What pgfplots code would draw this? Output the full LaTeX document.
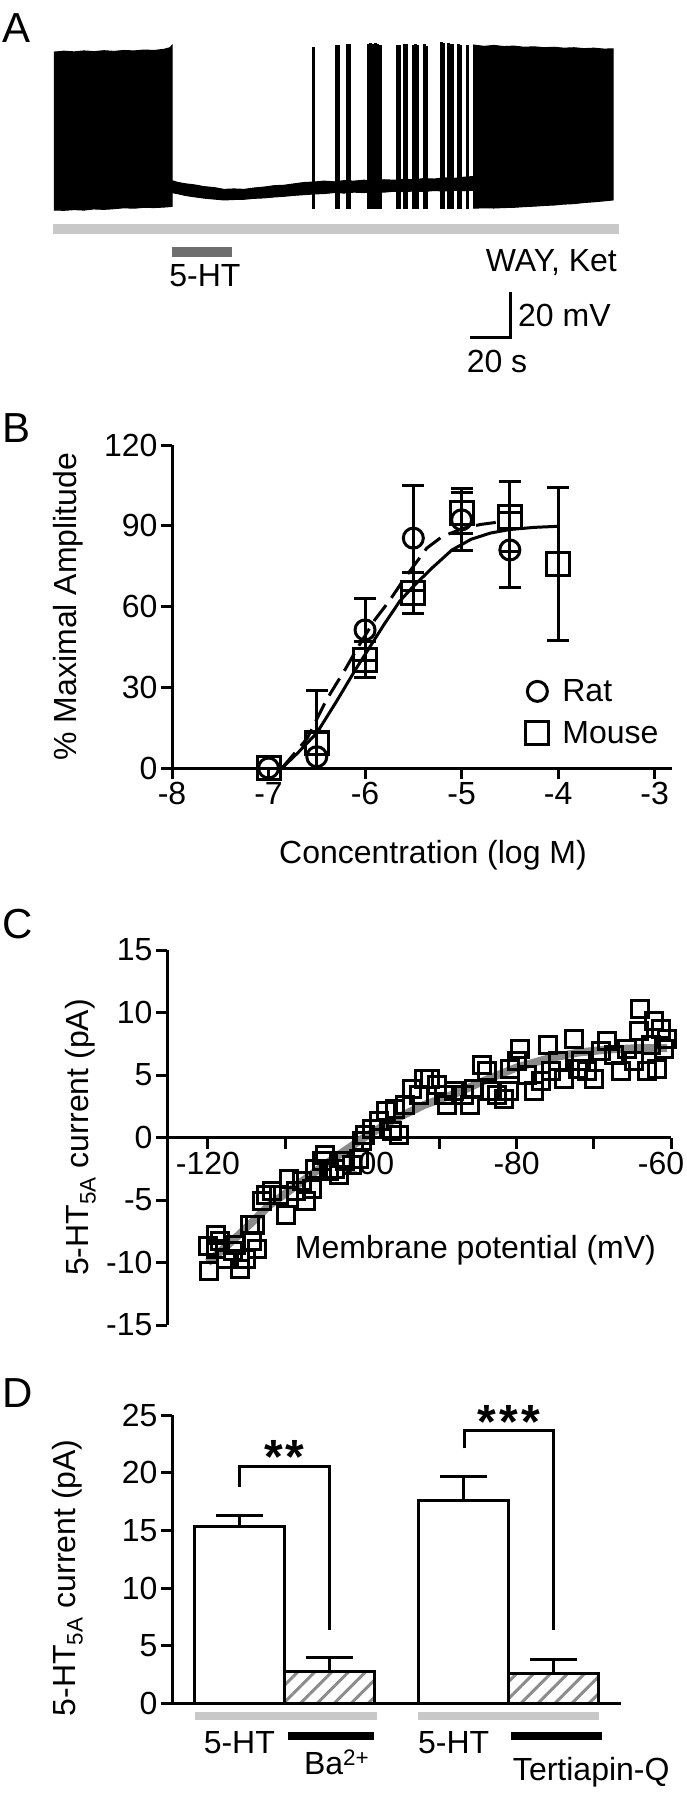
\documentclass[border=0pt]{standalone}
\usepackage{fontspec}
\setmainfont{Liberation Sans}
\usepackage{pgfplots}
\pgfplotsset{compat=1.18}
\usetikzlibrary{patterns.meta}
\newcommand{\fs}{\fontsize{32}{38}\selectfont}
\definecolor{lgray}{HTML}{C8C8C8}
\definecolor{dgray}{HTML}{6E6E6E}
\definecolor{hgray}{HTML}{8C8C8C}
\definecolor{fgray}{HTML}{8A8A8A}
\pgfplotsset{
  panel/.style={scale only axis, /pgf/number format/assume math mode=true,
    axis line style={line width=3pt}, tick style={line width=3pt, black},
    major tick length=11pt, tick align=outside,
    tick label style={font=\fs},
    clip=false},
}
\begin{document}
\begin{tikzpicture}
\path[use as bounding box] (0pt,0pt) rectangle (687pt,-1800pt);
% panel letters
\node[anchor=base west, inner sep=0pt, font=\fontsize{42}{46}\selectfont] at (2pt,-42pt) {A};
\node[anchor=base west, inner sep=0pt, font=\fontsize{42}{46}\selectfont] at (2pt,-442pt) {B};
\node[anchor=base west, inner sep=0pt, font=\fontsize{42}{46}\selectfont] at (2pt,-938pt) {C};
\node[anchor=base west, inner sep=0pt, font=\fontsize{42}{46}\selectfont] at (2pt,-1407pt) {D};

% ---------------- Panel A ----------------
\begin{axis}[scale only axis, hide axis, width=566pt, height=322pt,
  at={(54pt,-349pt)}, anchor=south west,
  xmin=0, xmax=283, ymin=-130, ymax=10, clip=false]
% left spiking block
\addplot[fill=black, draw=black, line width=1pt] coordinates {
(0,-0.9) (5,-0.5) (10,-0.8) (15,-0.4) (20,-0.7) (25,-0.3) (30,-0.6) (35,-0.2) (40,-0.4) (45,0.0) (50,-0.2) (55,0.3) (58,1.0) (59,2.0)
(59,-68.0) (55,-68.3) (50,-68.5) (45,-68.4) (40,-68.8) (35,-68.6) (30,-69.0) (25,-69.3) (20,-69.1) (15,-69.6) (10,-69.4) (5,-69.7) (0,-69.6)};
% hyperpolarised baseline band
\addplot[fill=black, draw=black, line width=1pt] coordinates {
(59,-56.8) (62,-57.6) (66,-58.2) (70,-58.6) (75,-59.4) (80,-59.8) (85,-60.6) (90,-60.4) (95,-60.6) (100,-60.0) (105,-59.6) (110,-59.0) (115,-58.8) (120,-58.2) (125,-57.6) (130,-57.4) (135,-57.0) (140,-57.3) (145,-56.8) (150,-57.0) (155,-56.6) (160,-56.9) (165,-56.4) (170,-56.6) (175,-56.2) (180,-56.4) (185,-55.9) (190,-56.1) (195,-55.6) (200,-55.8) (205,-55.3) (209.5,-55.0)
(209.5,-61.0) (205,-61.2) (200,-61.0) (195,-61.3) (190,-61.1) (185,-61.5) (180,-61.3) (175,-61.6) (170,-61.4) (165,-61.8) (160,-61.6) (155,-62.0) (150,-61.8) (145,-62.2) (140,-62.0) (135,-62.4) (130,-62.6) (125,-62.9) (120,-63.2) (115,-63.6) (110,-63.9) (105,-64.3) (100,-64.5) (95,-64.9) (90,-65.0) (85,-65.2) (80,-64.8) (75,-64.4) (70,-63.8) (66,-63.3) (62,-62.5) (59,-62.0)};
% right spiking block
\addplot[fill=black, draw=black, line width=1pt] coordinates {
(209.5,2.2) (215,1.6) (220,2.0) (225,1.5) (230,1.7) (235,1.2) (240,1.4) (245,1.0) (250,1.2) (255,0.8) (260,1.0) (265,0.6) (270,0.8) (275,0.4) (279.5,0.5)
(279.5,-65.2) (275,-65.6) (270,-66.0) (265,-66.3) (260,-66.8) (255,-67.0) (250,-67.4) (245,-67.6) (240,-67.9) (235,-68.1) (230,-68.4) (225,-68.5) (220,-68.7) (215,-68.6) (209.5,-68.8)};
% individual spikes
\addplot[black, line width=3pt, unbounded coords=jump] coordinates {
(129.5,-69) (129.5,1.3) (129.5,nan)
(141,-69) (141,2.2) (141,nan)
(142,-69) (142,2.2) (142,nan)
(146.5,-69) (146.5,2.6) (146.5,nan)
(147.5,-69) (147.5,2.6) (147.5,nan)
(157,-69) (157,2.6) (157,nan)
(158,-69) (158,3.0) (158,nan)
(159,-69) (159,2.6) (159,nan)
(160.5,-69) (160.5,3.0) (160.5,nan)
(161.5,-69) (161.5,2.6) (161.5,nan)
(163,-69) (163,2.2) (163,nan)
(171.5,-69) (171.5,2.2) (171.5,nan)
(172.5,-69) (172.5,2.2) (172.5,nan)
(175,-69) (175,2.6) (175,nan)
(176,-69) (176,2.6) (176,nan)
(179.5,-69) (179.5,2.2) (179.5,nan)
(180.5,-69) (180.5,2.6) (180.5,nan)
(181.5,-69) (181.5,2.2) (181.5,nan)
(185,-69) (185,2.6) (185,nan)
(186,-69) (186,1.7) (186,nan)
(193.5,-69) (193.5,3.5) (193.5,nan)
(194.5,-69) (194.5,3.0) (194.5,nan)
(197,-69) (197,3.0) (197,nan)
(198,-69) (198,2.6) (198,nan)
(199,-69) (199,2.6) (199,nan)
(202,-69) (202,2.6) (202,nan)
(203,-69) (203,2.2) (203,nan)
(206.5,-69) (206.5,2.2)};
% drug bars
\addplot[lgray, line width=10pt] coordinates {(-0.5,-77.8) (282.5,-77.8)};
\addplot[dgray, line width=10pt] coordinates {(59,-87.8) (89,-87.8)};
% scale bar
\addplot[black, line width=3pt] coordinates {(208,-125.2) (228,-125.2) (228,-105.2)};
\node[font=\fs, anchor=base, inner sep=0pt] at (axis cs:75.5,-103.0) {5-HT};
\node[font=\fs, anchor=base east, inner sep=0pt] at (axis cs:281.5,-96.5) {WAY, Ket};
\node[font=\fs, anchor=base west, inner sep=0pt] at (axis cs:232,-120.4) {20 mV};
\node[font=\fs, anchor=base, inner sep=0pt] at (axis cs:221.5,-140) {20 s};
\end{axis}

% ---------------- Panel B ----------------
\begin{axis}[panel, at={(172pt,-768pt)}, anchor=south west, width=500pt, height=323pt,
  xmin=-8, xmax=-2.82, ymin=0, ymax=120,
  axis x line*=bottom, axis y line*=left,
  xtick={-8,-7,-6,-5,-4,-3}, ytick={0,30,60,90,120},
  xlabel={Concentration (log M)}, ylabel={\% Maximal Amplitude},
  every axis x label/.style={at={(axis description cs:0.522,-0.269)}, anchor=center, font=\fs},
  every axis y label/.style={at={(axis description cs:-0.208,0.5)}, rotate=90, anchor=center, font=\fs},
  legend style={draw=none, fill=none, at={(axis cs:-4.367,34.4)}, anchor=north west, font=\fs, row sep=14pt},
  legend cell align=left,
  legend image code/.code={\draw[#1, mark repeat=1] plot coordinates {(0pt,0pt)}; \path[draw=none, fill=none] (-11.5pt,-11.5pt) rectangle (23pt,11.5pt);},
  error bars/error bar style={line width=3pt},
  error bars/error mark options={rotate=90, mark size=11pt, line width=3pt}]
% fits
\addplot[black, line width=3pt, forget plot] coordinates {
(-6.86,0) (-6.7,5.5) (-6.5,13) (-6.3,24.5) (-6.1,36.5) (-5.95,45) (-5.8,53.5) (-5.64,62) (-5.5,67.5) (-5.3,74.5) (-5.1,81) (-4.9,85) (-4.7,87.3) (-4.5,88.6) (-4.25,89.4) (-4.0,89.8)};
\addplot[black, line width=3pt, dash pattern=on 20pt off 9pt, forget plot] coordinates {
(-6.86,0) (-6.6,11) (-6.4,25.3) (-6.2,37) (-6.09,43.9) (-5.9,55) (-5.74,62.5) (-5.6,70) (-5.36,81.7) (-5.2,86) (-4.98,89.1) (-4.8,90.5) (-4.57,91.6)};
% mouse
\addplot[black, only marks, mark=square, mark size=11.5pt, mark options={line width=3pt, solid}, forget plot,
  error bars/.cd, y dir=both, y explicit] coordinates {
(-7,0) (-6.5,9.2) +- (0,4) (-6,40.3) +- (0,6.6) (-5.5,65) +- (0,7.7) (-5,94.7) +- (0,7.5) (-4.5,93.4) +- (0,13) (-4,75.8) +- (0,28.6)};
% rat
\addplot[black, only marks, mark=o, mark size=10pt, mark options={line width=3pt, solid}, forget plot,
  error bars/.cd, y dir=both, y explicit] coordinates {
(-7,0) (-6.5,4.2) += (0,24.5) -= (0,4.2) (-6,51.3) +- (0,11.5) (-5.5,85.4) +- (0,19.6) (-5,92.2) +- (0,11.5) (-4.5,81) +- (0,14)};
\addlegendimage{black, only marks, mark=o, mark size=10pt, mark options={line width=3pt, solid}}
\addlegendentry{Rat}
\addlegendimage{black, only marks, mark=square, mark size=11.5pt, mark options={line width=3pt, solid}}
\addlegendentry{Mouse}
\end{axis}

% ---------------- Panel C ----------------
\begin{axis}[panel, at={(167pt,-1325pt)}, anchor=south west, width=504pt, height=375pt,
  xmin=-125.3, xmax=-60, ymin=-15, ymax=15,
  axis x line*=middle, axis y line*=left,
  xtick={-120,-110,-100,-90,-80,-70,-60}, xticklabels={-120,,-100,,-80,,\hspace*{-20pt}-60},
  ytick={-15,-10,-5,0,5,10,15},
  xlabel={Membrane potential (mV)}, ylabel={5-HT\textsubscript{5A} current (pA)},
  every axis x label/.style={at={(axis description cs:0.612,0.2)}, anchor=center, font=\fs},
  every axis y label/.style={at={(axis description cs:-0.171,0.5)}, rotate=90, anchor=center, font=\fs}]
\addplot[black, only marks, mark=square, mark size=8.5pt, mark options={line width=3pt}] coordinates {
(-120,-8.7) (-119.9,-10.7) (-119,-7.8) (-119,-8.9) (-118.4,-8.3) (-117.7,-9.7) (-116.8,-9.1) (-116.4,-8.6) (-115.8,-10.5) (-115.1,-9.7) (-114.3,-8.3) (-113.6,-8.9) (-114.5,-7.0) (-113.9,-7.0)
(-113,-5.1) (-112.5,-4.6) (-111.7,-4.3) (-110.8,-4.6) (-109.9,-6.2) (-109.5,-3.3) (-108.6,-4.3) (-107.8,-3.5) (-107.3,-5.1) (-106.5,-4.1) (-106.1,-2.5) (-105.2,-1.9) (-104.8,-1.4) (-104.3,-2.7) (-103.5,-2.5) (-103.0,-3.0) (-102.2,-1.9) (-101.3,-2.2) (-100.4,-1.7) (-100,-0.3) (-99.6,0.2) (-98.7,0.7) (-97.8,1.3) (-96.9,2.1) (-96.1,0.5) (-95.3,0.2) (-95.7,2.3) (-94.4,2.6) (-93.5,3.9) (-92.7,3.4) (-92.0,4.7)
(-91.2,4.7) (-90.3,4.2) (-89.4,3.4) (-89,2.6) (-88.1,3.7) (-86.8,3.4) (-86,2.6) (-85.5,3.9) (-84.5,5.8) (-83.8,5.3) (-83.4,3.7) (-82.5,3.4) (-81.7,3.1) (-81,3.7) (-80.8,5.5) (-79.9,6.1) (-79.5,7.1) (-78.6,5.0) (-77.8,3.7) (-76.9,4.5) (-76.0,7.4) (-75.6,5.3) (-74.7,6.1) (-73.9,4.7) (-72.6,7.9) (-72.1,5.5) (-71.7,6.1) (-70.9,5.3) (-70,4.7) (-69.1,6.9) (-68.3,7.7) (-67.4,6.6) (-66.5,5.3) (-65.7,7.1) (-64.8,6.1) (-64.2,8.5) (-64,10.3) (-63.1,5.3) (-62.6,7.4) (-62.2,9.3) (-61.3,8.7) (-60.9,7.1) (-60.5,7.9) (-61.8,5.5)};
\addplot[fgray, line width=8pt] coordinates {
(-120,-10) (-116,-7.8) (-112,-5.4) (-108,-3.6) (-104,-1.8) (-100,-0.1) (-96,1.4) (-92,2.6) (-88,3.5) (-84,4.6) (-80,5.6) (-76,6.3) (-72,6.8) (-68,7.05) (-64,7.15) (-60.5,7.15)};
\end{axis}

% ---------------- Panel D ----------------
\begin{axis}[panel, at={(172pt,-1703.3pt)}, anchor=south west, width=449pt, height=288.3pt,
  xmin=-0.75, xmax=4.25, ymin=0, ymax=25,
  axis x line*=bottom, axis y line*=left,
  xtick=\empty, ytick={0,5,10,15,20,25},
  ylabel={5-HT\textsubscript{5A} current (pA)},
  every axis y label/.style={at={(axis description cs:-0.232,0.435)}, rotate=90, anchor=center, font=\fs},
  error bars/error bar style={line width=3pt},
  error bars/error mark options={rotate=90, mark size=23.5pt, line width=3pt}]
\addplot[ybar, bar width=1, fill=white, draw=black, line width=3pt,
  error bars/.cd, y dir=plus, y explicit] coordinates {(0,15.3) +- (0,1.0) (2.5,17.6) +- (0,2.1)};
\addplot[ybar, bar width=1, draw=black, line width=3pt,
  postaction={pattern={Lines[angle=45,distance=12pt,line width=3pt]}, pattern color=hgray},
  error bars/.cd, y dir=plus, y explicit] coordinates {(1,2.74) +- (0,1.22) (3.5,2.6) +- (0,1.16)};
% significance brackets
\addplot[black, line width=3pt] coordinates {(0,18.8) (0,20.5) (1,20.5) (1,6.4)};
\addplot[black, line width=3pt] coordinates {(2.51,22.1) (2.51,23.7) (3.5,23.7) (3.5,6.4)};
\node[font=\fontsize{48}{50}\selectfont\bfseries, inner sep=0pt] at (axis cs:0.5,21.4) {*\kern3pt*};
\node[font=\fontsize{48}{50}\selectfont\bfseries, inner sep=0pt] at (axis cs:3.0,24.4) {*\kern3pt*\kern3pt*};
% treatment bars
\addplot[lgray, line width=8.3pt] coordinates {(-0.496,-1.09) (1.528,-1.09)};
\addplot[lgray, line width=8.3pt] coordinates {(1.993,-1.09) (4.003,-1.09)};
\addplot[black, line width=8.3pt] coordinates {(0.546,-2.82) (1.503,-2.82)};
\addplot[black, line width=8.3pt] coordinates {(3.023,-2.82) (4.043,-2.82)};
\node[font=\fs, anchor=base, inner sep=0pt] at (axis cs:0,-4.31) {5-HT};
\node[font=\fs, anchor=base, inner sep=0pt] at (axis cs:2.386,-4.31) {5-HT};
\node[font=\fs, anchor=base west, inner sep=0pt] at (axis cs:0.718,-6.2) {Ba\textsuperscript{2+}};
\node[font=\fs, anchor=base west, inner sep=0pt] at (axis cs:3.045,-6.65) {Tertiapin-Q};
\end{axis}
\end{tikzpicture}
\end{document}
